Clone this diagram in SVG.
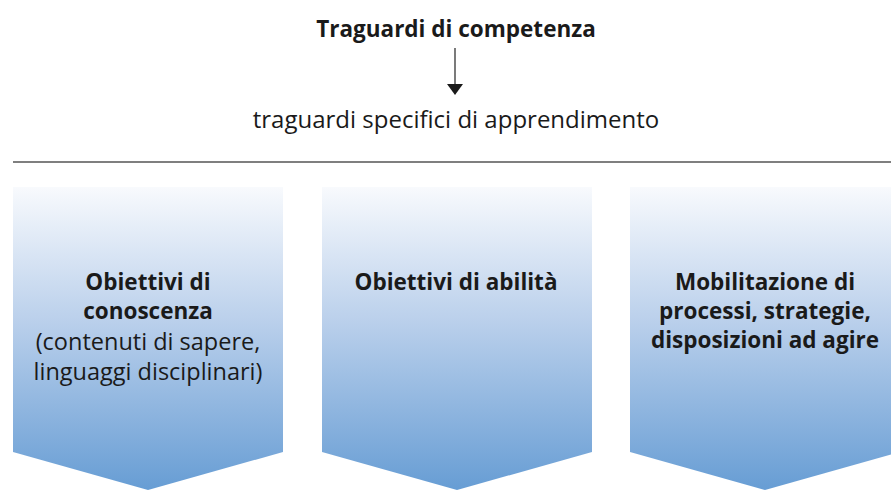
<svg xmlns="http://www.w3.org/2000/svg" width="891" height="490" viewBox="0 0 891 490">
<defs>
<linearGradient id="g" x1="0" y1="0" x2="0" y2="1">
<stop offset="0" stop-color="#f8fafd"/>
<stop offset="0.45" stop-color="#b9cfeb"/>
<stop offset="1" stop-color="#679dd4"/>
</linearGradient>
<style>
text{font-family:"Open Sans","Noto Sans",sans-serif;fill:#1a1a1a;text-anchor:middle;font-variant-ligatures:none}
.b{font-weight:bold;font-size:22.5px}
.r{font-size:23.5px}
.box{fill:url(#g)}
</style>
</defs>
<rect width="891" height="490" fill="#ffffff"/>
<g id="title">
<text class="b" x="456" y="37" style="font-size:22.5px">Traguardi di competenza</text>
</g>
<g id="subtitle">
<text x="456" y="128" style="font-size:24px">traguardi specifici di apprendimento</text>
</g>
<g id="connectors">
<line x1="455" y1="48" x2="455" y2="84" stroke="#333" stroke-width="1.3"/>
<path d="M447,84 L463,84 L455,95 Z" fill="#1a1a1a"/>
<line x1="13" y1="162" x2="891" y2="162" stroke="#555" stroke-width="1.3"/>
</g>
<g id="box1">
<path class="box" d="M13,187 H283 V452 L148,490 L13,452 Z"/>
<text class="b" x="148" y="290">Obiettivi di</text>
<text class="b" x="148" y="319">conoscenza</text>
<text class="r" x="148" y="350">(contenuti di sapere,</text>
<text class="r" x="148" y="380">linguaggi disciplinari)</text>
</g>
<g id="box2">
<path class="box" d="M322,187 H592 V452 L457,490 L322,452 Z"/>
<text class="b" x="456" y="290">Obiettivi di abilità</text>
</g>
<g id="box3">
<path class="box" d="M630,187 H900 V452 L765,490 L630,452 Z"/>
<text class="b" x="765" y="290">Mobilitazione di</text>
<text class="b" x="765" y="319">processi, strategie,</text>
<text class="b" x="765" y="348">disposizioni ad agire</text>
</g>
</svg>
